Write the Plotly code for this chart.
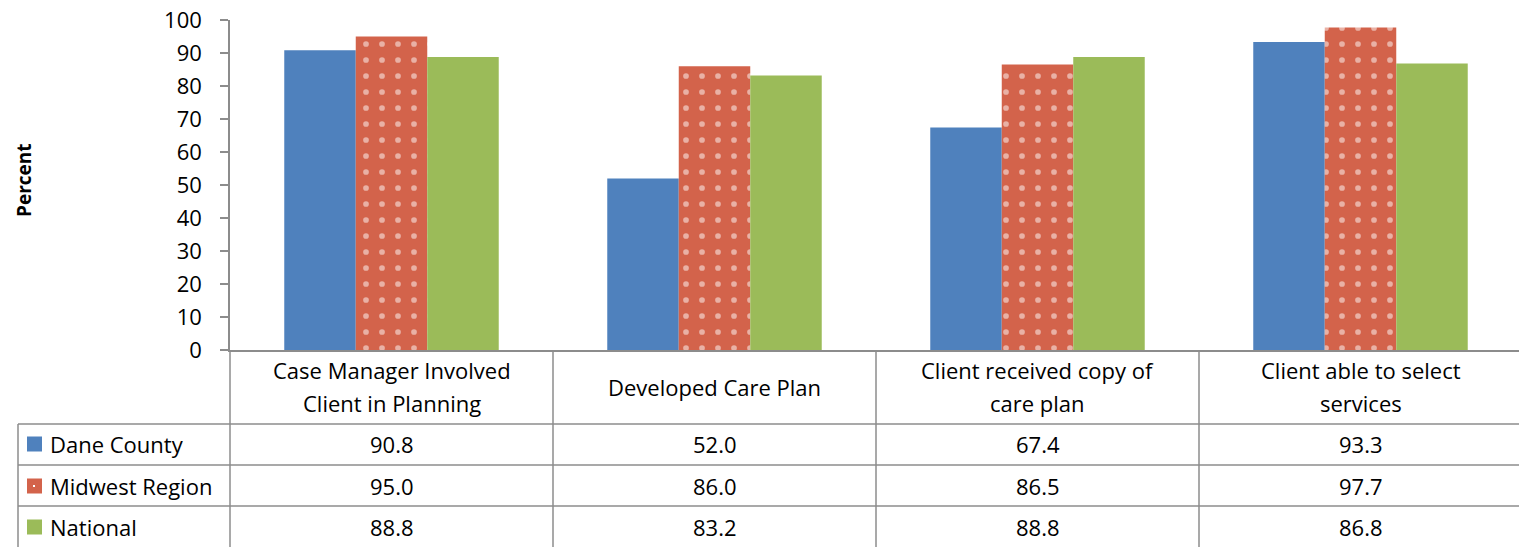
import plotly.graph_objects as go

categories = ["Case Manager Involved<br>Client in Planning", "Developed Care Plan",
              "Client received copy of<br>care plan", "Client able to select<br>services"]
series_names = ["Dane County", "Midwest Region", "National"]
dane = [90.8, 52.0, 67.4, 93.3]
midwest = [95.0, 86.0, 86.5, 97.7]
national = [88.8, 83.2, 88.8, 86.8]
y_ticks = [0, 10, 20, 30, 40, 50, 60, 70, 80, 90, 100]

colors = ["#4F81BD", "#D3634B", "#9BBB59"]
values = [dane, midwest, national]
FONT = "Open Sans"
FS = 22
GRID = "#8C8C8C"

W, H = 1519, 547
L, T, B = 230, 20, 197
plot_h = H - T - B
plot_w = W - L


def py(p):
    # pixel row -> paper y
    return (H - B - p) / plot_h


def px(p):
    return (p - L) / plot_w


x = list(range(len(categories)))
fig = go.Figure()
for name, vals, col in zip(series_names, values, colors):
    pattern = None
    if name == "Midwest Region":
        pattern = dict(shape=".", fgcolor="white", bgcolor=col, size=16, solidity=0.1)
    fig.add_trace(go.Bar(
        x=x, y=vals, name=name, marker=dict(color=col, line=dict(width=0), pattern=pattern),
        showlegend=False))

shapes = []
annotations = []


def text(xv, yv, s, xref="paper", xanchor="center", **kw):
    annotations.append(dict(x=xv, y=yv, xref=xref, yref="paper", text=s, showarrow=False,
                            xanchor=xanchor, yanchor="middle",
                            font=dict(family=FONT, size=FS, color="#000"), **kw))


# data table grid lines
for r in [424, 465, 506]:
    shapes.append(dict(type="line", xref="paper", yref="paper", x0=px(18), x1=1.0,
                       y0=py(r), y1=py(r), line=dict(color=GRID, width=1.5)))
shapes.append(dict(type="line", xref="paper", yref="paper", x0=px(18), x1=px(18),
                   y0=py(424), y1=py(547), line=dict(color=GRID, width=1.5)))
shapes.append(dict(type="line", xref="paper", yref="paper", x0=0, x1=0,
                   y0=0, y1=py(547), line=dict(color=GRID, width=1.5)))
for b in [0.5, 1.5, 2.5]:
    shapes.append(dict(type="line", xref="x", yref="paper", x0=b, x1=b,
                       y0=0, y1=py(547), line=dict(color=GRID, width=1.5)))

# category header text, one annotation per line
for i, c in enumerate(categories):
    lines = c.split("<br>")
    if len(lines) == 1:
        text(i, py(387), lines[0], xref="x")
    else:
        for j, ln in enumerate(lines):
            text(i, py(370 + 33 * j), ln, xref="x")

row_centers = [444, 486, 527]
for rc, name, vals, col in zip(row_centers, series_names, values, colors):
    shapes.append(dict(type="rect", xref="paper", yref="paper", x0=px(27), x1=px(42),
                       y0=py(rc + 7.5), y1=py(rc - 7.5), fillcolor=col, line=dict(width=0)))
    if name == "Midwest Region":
        shapes.append(dict(type="rect", xref="paper", yref="paper", x0=px(33), x1=px(35),
                           y0=py(rc + 1), y1=py(rc - 1), fillcolor="white", line=dict(width=0)))
    text(px(48), py(rc), name, xanchor="left")
    for i, v in enumerate(vals):
        text(i, py(rc), f"{v:.1f}", xref="x")

annotations.append(dict(x=px(24), y=py(180), xref="paper", yref="paper", text="<b>Percent</b>",
                        showarrow=False, textangle=-90, xanchor="center", yanchor="middle",
                        font=dict(family=FONT, size=19, color="#000")))

fig.update_layout(
    width=W, height=H,
    margin=dict(l=L, r=0, t=T, b=B, pad=0),
    plot_bgcolor="white", paper_bgcolor="white",
    barmode="group", bargap=0.336, bargroupgap=0,
    xaxis=dict(range=[-0.5, -0.5 + plot_w / 323.0], showticklabels=False, ticks="",
               showline=True, linecolor=GRID, linewidth=1.5, showgrid=False, zeroline=False),
    yaxis=dict(range=[0, 100], tickvals=y_ticks, ticks="outside", ticklen=8, tickcolor=GRID,
               tickwidth=1.5, showline=True, linecolor=GRID, linewidth=1.5, showgrid=False,
               zeroline=False, ticklabelstandoff=14,
               tickfont=dict(family=FONT, size=FS, color="#000")),
    shapes=shapes, annotations=annotations,
)

fig.write_html("out.html")
